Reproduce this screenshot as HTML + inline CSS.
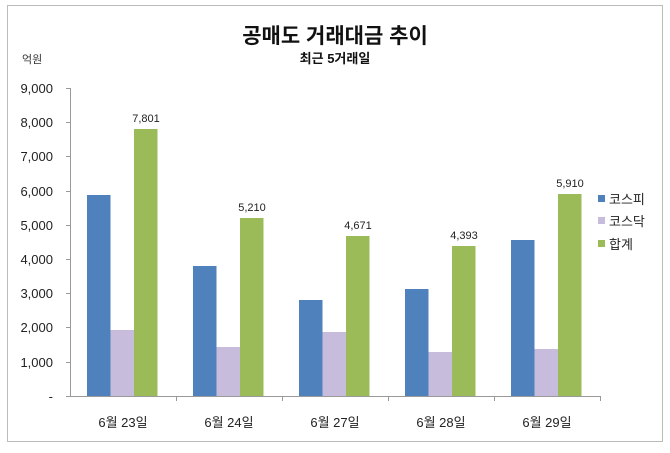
<!DOCTYPE html>
<html><head><meta charset="utf-8"><style>
body{margin:0;background:#fff}
svg text{font-family:"Liberation Sans","Noto Sans CJK KR",sans-serif}
</style></head><body>
<svg width="670" height="448" xmlns="http://www.w3.org/2000/svg">
<rect x="0" y="0" width="670" height="448" fill="#fff"/>
<rect x="7.5" y="5.5" width="655" height="436" fill="none" stroke="#bbb" stroke-width="1"/>
<text x="335" y="43" text-anchor="middle" font-size="21" font-weight="bold" fill="#111">공매도 거래대금 추이</text>
<text x="335" y="63" text-anchor="middle" font-size="13" font-weight="bold" fill="#111">최근 5거래일</text>
<text x="22" y="63" font-size="11" fill="#333">억원</text>
<g font-size="13" fill="#222" text-anchor="end">
<text x="53" y="93">9,000</text><text x="53" y="127">8,000</text><text x="53" y="161">7,000</text>
<text x="53" y="196">6,000</text><text x="53" y="230">5,000</text><text x="53" y="264">4,000</text>
<text x="53" y="298">3,000</text><text x="53" y="332">2,000</text><text x="53" y="367">1,000</text>
<text x="53" y="401">-</text>
</g>
<g stroke="#999" stroke-width="1">
<line x1="70.5" y1="88" x2="70.5" y2="396"/>
<line x1="66" y1="88.5" x2="70" y2="88.5"/><line x1="66" y1="122.5" x2="70" y2="122.5"/><line x1="66" y1="156.5" x2="70" y2="156.5"/><line x1="66" y1="191.5" x2="70" y2="191.5"/><line x1="66" y1="225.5" x2="70" y2="225.5"/><line x1="66" y1="259.5" x2="70" y2="259.5"/><line x1="66" y1="293.5" x2="70" y2="293.5"/><line x1="66" y1="327.5" x2="70" y2="327.5"/><line x1="66" y1="362.5" x2="70" y2="362.5"/>
<line x1="66" y1="396.5" x2="600" y2="396.5"/>
<line x1="176.5" y1="396" x2="176.5" y2="401"/><line x1="282.5" y1="396" x2="282.5" y2="401"/><line x1="388.5" y1="396" x2="388.5" y2="401"/><line x1="494.5" y1="396" x2="494.5" y2="401"/><line x1="600.5" y1="396" x2="600.5" y2="401"/>
</g>
<g>
<!-- cat1 -->
<rect x="87" y="195" width="23.5" height="201" fill="#4f81bd"/>
<rect x="110.5" y="330" width="23.5" height="66" fill="#c8bcdc"/>
<rect x="134" y="129" width="23.5" height="267" fill="#9bbb59"/>
<!-- cat2 -->
<rect x="193" y="266" width="23.5" height="130" fill="#4f81bd"/>
<rect x="216.5" y="347" width="23.5" height="49" fill="#c8bcdc"/>
<rect x="240" y="218" width="23.5" height="178" fill="#9bbb59"/>
<!-- cat3 -->
<rect x="299" y="300" width="23.5" height="96" fill="#4f81bd"/>
<rect x="322.5" y="332" width="23.5" height="64" fill="#c8bcdc"/>
<rect x="346" y="236" width="23.5" height="160" fill="#9bbb59"/>
<!-- cat4 -->
<rect x="405" y="289" width="23.5" height="107" fill="#4f81bd"/>
<rect x="428.5" y="352" width="23.5" height="44" fill="#c8bcdc"/>
<rect x="452" y="246" width="23.5" height="150" fill="#9bbb59"/>
<!-- cat5 -->
<rect x="511" y="240" width="23.5" height="156" fill="#4f81bd"/>
<rect x="534.5" y="349" width="23.5" height="47" fill="#c8bcdc"/>
<rect x="558" y="194" width="23.5" height="202" fill="#9bbb59"/>
</g>
<g font-size="11" fill="#222" text-anchor="middle">
<text x="146" y="122">7,801</text><text x="252" y="211">5,210</text><text x="358" y="229">4,671</text><text x="464" y="239">4,393</text><text x="570" y="187">5,910</text>
</g>
<g font-size="13" fill="#222" text-anchor="middle">
<text x="123" y="427">6월 23일</text><text x="229" y="427">6월 24일</text><text x="335" y="427">6월 27일</text><text x="441" y="427">6월 28일</text><text x="547" y="427">6월 29일</text>
</g>
<rect x="598" y="195" width="7" height="7" fill="#4f81bd"/>
<rect x="598" y="217" width="7" height="7" fill="#c8bcdc"/>
<rect x="598" y="240" width="7" height="7" fill="#9bbb59"/>
<g font-size="13" fill="#222">
<text x="609" y="204">코스피</text><text x="609" y="226">코스닥</text><text x="609" y="249">합계</text>
</g>
</svg>
</body></html>
